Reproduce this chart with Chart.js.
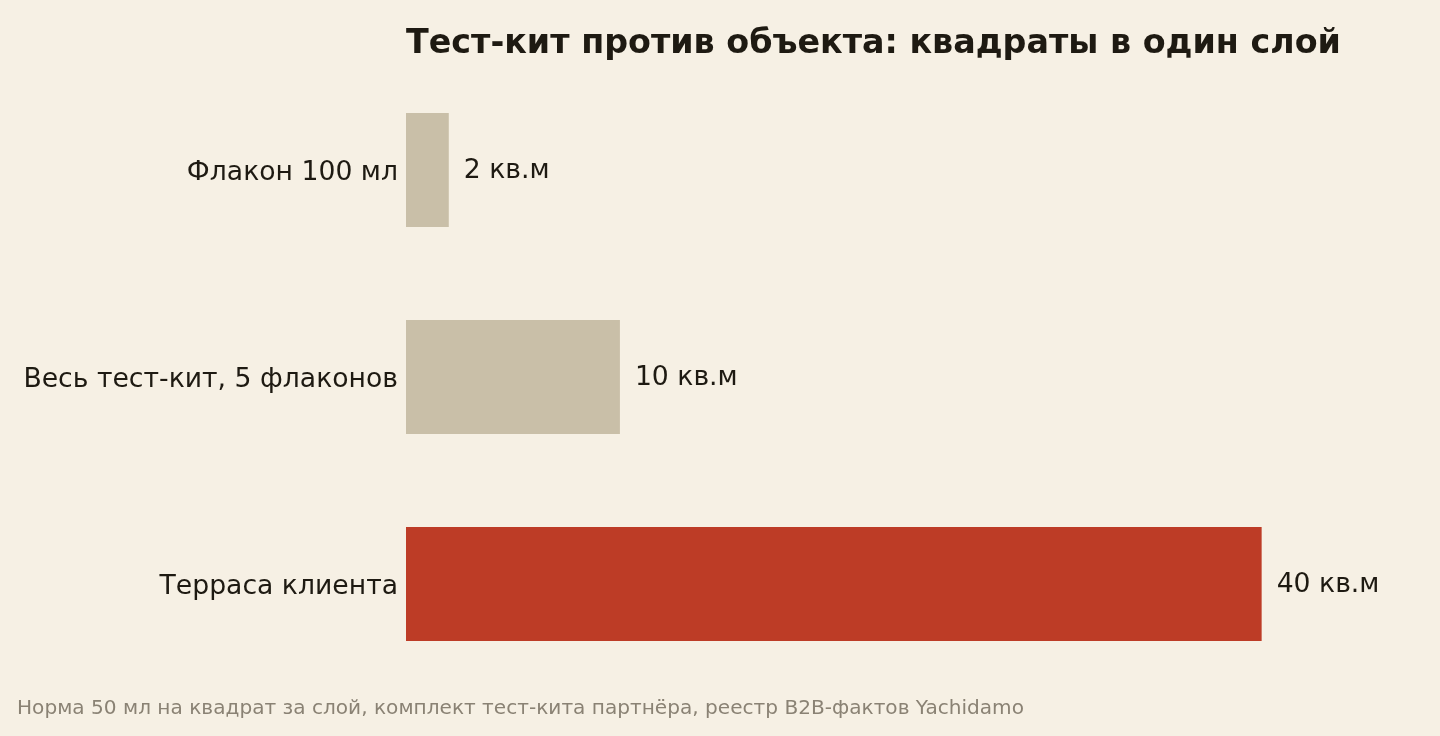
<!DOCTYPE html>
<html>
<head>
<meta charset="utf-8">
<script src="https://cdn.jsdelivr.net/npm/chart.js@4"></script>
<style>
  html, body { margin: 0; padding: 0; background: #f6f0e4; }
  #wrap { width: 1440px; height: 736px; }
</style>
</head>
<body>
<div id="wrap"><canvas id="chart"></canvas></div>
<script>
let categories = ["Флакон 100 мл", "Весь тест-кит, 5 флаконов", "Терраса клиента"];
let areaValues = [2, 10, 40];
let valueLabels = ["2 кв.м", "10 кв.м", "40 кв.м"];
let barColors = ["#c9bfa8", "#c9bfa8", "#bd3c26"];

let titleText = "Тест-кит против объекта: квадраты в один слой";
let noteText = "Норма 50 мл на квадрат за слой, комплект тест-кита партнёра, реестр B2B-фактов Yachidamo";

let textColor = "#1e1a12";
let fontName = "'DejaVu Sans', sans-serif";

let extraText = {
  id: "extraText",
  afterDatasetsDraw: function(chart){
    let ctx = chart.ctx;
    let area = chart.chartArea;
    let meta = chart.getDatasetMeta(0);

    ctx.save();
    ctx.fillStyle = textColor;
    ctx.textAlign = "left";
    ctx.textBaseline = "middle";
    ctx.font = "26.67px " + fontName;
    meta.data.forEach(function(bar, i){
      ctx.fillText(valueLabels[i], bar.x + 15, bar.y + 1);
    });

    ctx.textBaseline = "alphabetic";
    ctx.font = "bold 33.33px " + fontName;
    ctx.fillText(titleText, area.left, 53);

    ctx.fillStyle = "#8a8274";
    ctx.font = "20.1px " + fontName;
    ctx.fillText(noteText, 17, 714);
    ctx.restore();
  }
};

new Chart(document.getElementById("chart"), {
  type: "bar",
  data: {
    labels: categories,
    datasets: [{
      data: areaValues,
      backgroundColor: barColors,
      borderWidth: 0,
      categoryPercentage: 1,
      barPercentage: 0.55
    }]
  },
  options: {
    indexAxis: "y",
    responsive: true,
    maintainAspectRatio: false,
    animation: false,
    layout: {
      padding: { top: 66.5, bottom: 48.5, left: 0, right: 50 }
    },
    plugins: {
      legend: { display: false },
      tooltip: { enabled: false }
    },
    scales: {
      x: {
        display: false,
        min: 0,
        max: 46
      },
      y: {
        grid: { display: false, drawTicks: false },
        border: { display: false },
        ticks: {
          color: textColor,
          padding: 8,
          labelOffset: 3,
          font: { family: fontName, size: 26.67 }
        },
        afterFit: function(scale){
          scale.width = 406;
        }
      }
    }
  },
  plugins: [extraText]
});
</script>
</body>
</html>
